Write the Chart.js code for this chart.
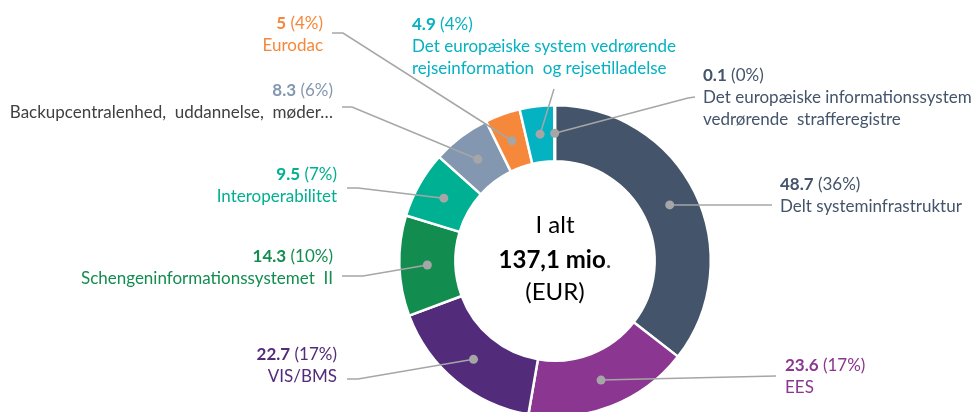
<!DOCTYPE html>
<html>
<head>
<meta charset="utf-8">
<script src="https://cdn.jsdelivr.net/npm/chart.js@4.4.1/dist/chart.umd.min.js"></script>
<style>
    html, body { margin: 0; padding: 0; background: #fff; }
    #wrap { width: 977px; height: 412px; overflow: hidden; position: relative; }
    canvas { display: block; }
</style>
</head>
<body>
<div id="wrap"><canvas id="chart" width="977" height="430"></canvas></div>
<script>
// Budget split, clockwise from 12 o'clock (mio. EUR)
const categories = [
    ['Delt systeminfrastruktur'],
    ['EES'],
    ['VIS/BMS'],
    ['Schengeninformationssystemet  II'],
    ['Interoperabilitet'],
    ['Backupcentralenhed,  uddannelse,  møder…'],
    ['Eurodac'],
    ['Det europæiske system vedrørende', 'rejseinformation  og rejsetilladelse'],
    ['Det europæiske informationssystem', 'vedrørende  strafferegistre']
];
const values = [48.7, 23.6, 22.7, 14.3, 9.5, 8.3, 5, 4.9, 0.1];

const sliceColors = ['#44546a', '#8b3690', '#532b7b', '#138d4f', '#00b092', '#8497b0', '#f5883a', '#05b2c2', '#3e4d61'];
const numberColors = ['#44546a', '#8b3690', '#532b7b', '#138d4f', '#00b092', '#8497b0', '#f5883a', '#05b2c2', '#44546a'];
const nameColors = ['#44546a', '#8b3690', '#532b7b', '#138d4f', '#00b092', '#404040', '#f5883a', '#05b2c2', '#44546a'];

// Callout layout: leader line bends and text anchor for each slice
const callouts = [
    { path: [[772, 205]], align: 'left', x: 780, y: 185 },
    { path: [[776, 376]], align: 'left', x: 785, y: 366 },
    { path: [[358, 379], [347, 379]], align: 'right', x: 337, y: 355 },
    { path: [[363, 276], [342, 276]], align: 'right', x: 333, y: 257 },
    { path: [[358, 188], [347, 188]], align: 'right', x: 337, y: 175 },
    { path: [[352, 107], [342, 107]], align: 'right', x: 333, y: 91 },
    { path: [[343, 33], [332, 33]], align: 'right', x: 323, y: 24 },
    { path: [[554, 89]], align: 'left', x: 412, y: 25 },
    { path: [[688, 98], [695, 97]], align: 'left', x: 703, y: 76 }
];

const FONT = 'Lato, "Open Sans", sans-serif';
const LABEL_SIZE = 17;
const LINE_GAP = 22;

const total = values.reduce((sum, v) => sum + v, 0);

const calloutPlugin = {
    id: 'callouts',
    afterDatasetsDraw(chart) {
        const ctx = chart.ctx;
        const meta = chart.getDatasetMeta(0);
        const fBold = 'bold ' + LABEL_SIZE + 'px ' + FONT;
        const fNorm = LABEL_SIZE + 'px ' + FONT;

        meta.data.forEach((arc, i) => {
            const p = arc.tooltipPosition();
            const c = callouts[i];
            ctx.save();

            // leader line + dot
            ctx.strokeStyle = '#a6a6a6';
            ctx.lineWidth = 1.5;
            ctx.beginPath();
            ctx.moveTo(p.x, p.y);
            c.path.forEach(([x, y]) => ctx.lineTo(x, y));
            ctx.stroke();
            ctx.fillStyle = '#a6a6a6';
            ctx.beginPath();
            ctx.arc(p.x, p.y, 4.5, 0, Math.PI * 2);
            ctx.fill();

            // value line: bold number + normal percentage
            ctx.textBaseline = 'middle';
            ctx.textAlign = 'left';
            const numText = String(values[i]);
            const pctText = ' (' + Math.round(values[i] / total * 100) + '%)';
            ctx.font = fBold;
            const wNum = ctx.measureText(numText).width;
            ctx.font = fNorm;
            const wPct = ctx.measureText(pctText).width;
            const x0 = c.align === 'right' ? c.x - wNum - wPct : c.x;
            ctx.fillStyle = numberColors[i];
            ctx.font = fBold;
            ctx.fillText(numText, x0, c.y);
            ctx.font = fNorm;
            ctx.fillText(pctText, x0 + wNum, c.y);

            // category name lines
            ctx.textAlign = c.align;
            ctx.fillStyle = nameColors[i];
            categories[i].forEach((line, k) => {
                ctx.fillText(line, c.x, c.y + LINE_GAP * (k + 1));
            });
            ctx.restore();
        });

        // centre text
        const cx = meta.data[0].x;
        const cy = meta.data[0].y;
        ctx.save();
        ctx.textBaseline = 'middle';
        ctx.textAlign = 'center';
        ctx.fillStyle = '#000';
        ctx.font = '24px ' + FONT;
        ctx.fillText('I alt', cx, cy - 36);
        ctx.fillText('(EUR)', cx, cy + 31);
        const bold = total.toFixed(1).replace('.', ',') + ' mio';
        ctx.font = 'bold 24px ' + FONT;
        const wb = ctx.measureText(bold).width;
        ctx.font = '24px ' + FONT;
        const wd = ctx.measureText('.').width;
        ctx.textAlign = 'left';
        ctx.font = 'bold 24px ' + FONT;
        ctx.fillText(bold, cx - (wb + wd) / 2, cy - 1);
        ctx.font = '24px ' + FONT;
        ctx.fillStyle = '#444';
        ctx.fillText('.', cx - (wb + wd) / 2 + wb, cy - 1);
        ctx.restore();
    }
};

new Chart(document.getElementById('chart'), {
    type: 'doughnut',
    data: {
        labels: categories,
        datasets: [{
            data: values,
            backgroundColor: sliceColors,
            borderColor: '#ffffff',
            borderWidth: 2.5
        }]
    },
    options: {
        responsive: false,
        animation: false,
        events: [],
        cutout: '64%',
        layout: {
            padding: { top: 104, bottom: 12, left: 398, right: 265 }
        },
        plugins: {
            legend: { display: false },
            tooltip: { enabled: false }
        }
    },
    plugins: [calloutPlugin]
});
</script>
</body>
</html>
